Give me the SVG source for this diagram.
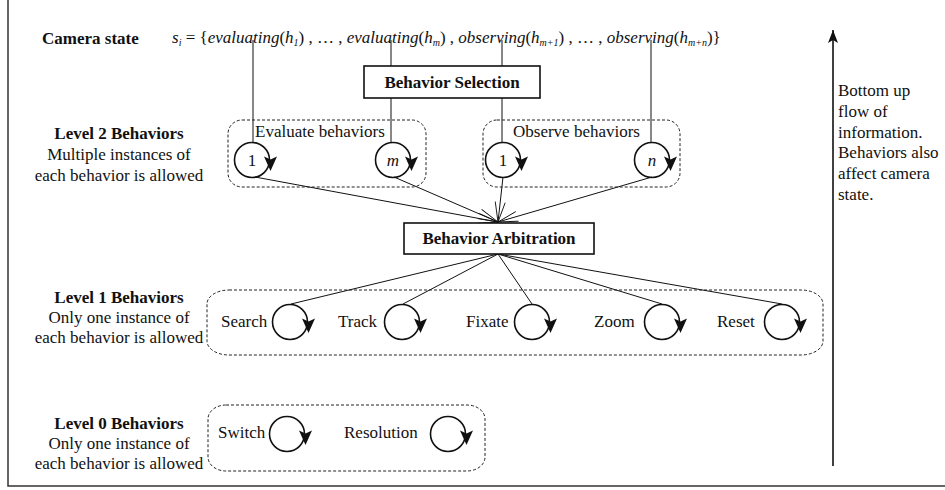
<svg xmlns="http://www.w3.org/2000/svg" xmlns:xlink="http://www.w3.org/1999/xlink" width="945" height="490" viewBox="0 0 945 490">
<style>
text{font-family:"Liberation Serif","Times New Roman",serif;font-size:17px;fill:#111}
.b{font-weight:bold}
.i{font-style:italic}
.sub{font-size:10px;font-style:italic}
.mid{text-anchor:middle}
.grp{fill:none;stroke:#222;stroke-width:1;stroke-dasharray:3 2}
.box{fill:#fff;stroke:#111;stroke-width:1.6}
.ln{fill:none;stroke:#111;stroke-width:1}
.loop circle{fill:none;stroke:#111;stroke-width:1.6}
</style>
<defs>
<g id="loop" class="loop">
<circle cx="0" cy="0" r="17.5"/>
<path d="M18.5,11 L12,-3.5 L18.5,-0.5 L25,-3.5 Z" fill="#111"/>
</g>
<marker id="open" viewBox="-22 -8 24 16" refX="0" refY="0" markerWidth="24" markerHeight="16" markerUnits="userSpaceOnUse" orient="auto">
<path d="M-20,-5 L0,0 L-20,5" fill="none" stroke="#111" stroke-width="0.9"/>
</marker>
<marker id="solid" viewBox="-14 -6 15 12" refX="0" refY="0" markerWidth="15" markerHeight="12" markerUnits="userSpaceOnUse" orient="auto">
<path d="M0,0 L-13,-5 L-10,0 L-13,5 Z" fill="#111"/>
</marker>
</defs>
<rect width="945" height="490" fill="#fff"/>
<path d="M8,0 V486 H945" fill="none" stroke="#333" stroke-width="1.5"/>

<g id="connectors">
<path class="ln" d="M253,40 V142"/>
<path class="ln" d="M391,40 V66 M391,98 V142"/>
<path class="ln" d="M502,40 V66 M502,98 V142"/>
<path class="ln" d="M651,40 V142"/>
<line class="ln" x1="255" y1="177" x2="498" y2="222" marker-end="url(#open)"/>
<line class="ln" x1="394" y1="177" x2="498" y2="222" marker-end="url(#open)"/>
<line class="ln" x1="503" y1="177" x2="498" y2="222" marker-end="url(#open)"/>
<line class="ln" x1="652" y1="177" x2="498" y2="222" marker-end="url(#open)"/>
<line class="ln" x1="498" y1="254" x2="291" y2="304"/>
<line class="ln" x1="498" y1="254" x2="403" y2="304"/>
<line class="ln" x1="498" y1="254" x2="532" y2="304"/>
<line class="ln" x1="498" y1="254" x2="662" y2="304"/>
<line class="ln" x1="498" y1="254" x2="782" y2="304"/>
<line x1="833" y1="466" x2="833" y2="30" stroke="#111" stroke-width="1.6" marker-end="url(#solid)"/>
</g>

<g id="camera-state">
<text class="b" x="42" y="44">Camera state</text>
<text x="172" y="43"><tspan class="i">s</tspan><tspan class="sub" dy="3">i</tspan><tspan dy="-3"> = {</tspan><tspan class="i">evaluating</tspan>(<tspan class="i">h</tspan><tspan class="sub" dy="3">1</tspan><tspan dy="-3">) , … , </tspan><tspan class="i">evaluating</tspan>(<tspan class="i">h</tspan><tspan class="sub" dy="3">m</tspan><tspan dy="-3">) , </tspan><tspan class="i">observing</tspan>(<tspan class="i">h</tspan><tspan class="sub" dy="3">m+1</tspan><tspan dy="-3">) , … , </tspan><tspan class="i">observing</tspan>(<tspan class="i">h</tspan><tspan class="sub" dy="3">m+n</tspan><tspan dy="-3">)}</tspan></text>
</g>

<g id="behavior-selection">
<rect class="box" x="364" y="66" width="176" height="32"/>
<text class="b mid" x="452" y="88">Behavior Selection</text>
</g>

<g id="behavior-arbitration">
<rect class="box" x="404" y="223" width="190" height="31"/>
<text class="b mid" x="499" y="244">Behavior Arbitration</text>
</g>

<g id="level2-label">
<text class="b mid" x="119" y="139">Level 2 Behaviors</text>
<text class="mid" x="119" y="160">Multiple instances of</text>
<text class="mid" x="119" y="181">each behavior is allowed</text>
</g>
<g id="level1-label">
<text class="b mid" x="119" y="303">Level 1 Behaviors</text>
<text class="mid" x="119" y="323">Only one instance of</text>
<text class="mid" x="119" y="343">each behavior is allowed</text>
</g>
<g id="level0-label">
<text class="b mid" x="119" y="429">Level 0 Behaviors</text>
<text class="mid" x="119" y="449">Only one instance of</text>
<text class="mid" x="119" y="469">each behavior is allowed</text>
</g>

<g id="evaluate-group">
<rect class="grp" x="228" y="120" width="198" height="67" rx="14" ry="14"/>
<text x="255" y="137">Evaluate behaviors</text>
</g>
<g id="eval-1">
<use xlink:href="#loop" x="252" y="160"/>
<text class="mid" x="252" y="166">1</text>
</g>
<g id="eval-m">
<use xlink:href="#loop" x="393" y="160"/>
<text class="mid i" x="393" y="166">m</text>
</g>

<g id="observe-group">
<rect class="grp" x="483" y="120" width="197" height="67" rx="14" ry="14"/>
<text x="513" y="137">Observe behaviors</text>
</g>
<g id="obs-1">
<use xlink:href="#loop" x="503" y="160"/>
<text class="mid" x="503" y="166">1</text>
</g>
<g id="obs-n">
<use xlink:href="#loop" x="652" y="160"/>
<text class="mid i" x="652" y="166">n</text>
</g>

<g id="level1-group">
<rect class="grp" x="207" y="290" width="616" height="65" rx="22" ry="14"/>
</g>
<g id="search"><text x="221" y="327">Search</text><use xlink:href="#loop" x="290" y="322"/></g>
<g id="track"><text x="338" y="327">Track</text><use xlink:href="#loop" x="402" y="322"/></g>
<g id="fixate"><text x="466" y="327">Fixate</text><use xlink:href="#loop" x="532" y="322"/></g>
<g id="zoom"><text x="594" y="327">Zoom</text><use xlink:href="#loop" x="662" y="322"/></g>
<g id="reset"><text x="717" y="327">Reset</text><use xlink:href="#loop" x="782" y="322"/></g>

<g id="level0-group">
<rect class="grp" x="208" y="405" width="277" height="66" rx="18" ry="14"/>
</g>
<g id="switch"><text x="218" y="438">Switch</text><use xlink:href="#loop" x="287" y="434"/></g>
<g id="resolution"><text x="344" y="438">Resolution</text><use xlink:href="#loop" x="448" y="434"/></g>

<g id="flow-note">
<text x="838" y="96">Bottom up</text>
<text x="838" y="117">flow of</text>
<text x="838" y="138">information.</text>
<text x="838" y="158">Behaviors also</text>
<text x="838" y="179">affect camera</text>
<text x="838" y="200">state.</text>
</g>
</svg>
